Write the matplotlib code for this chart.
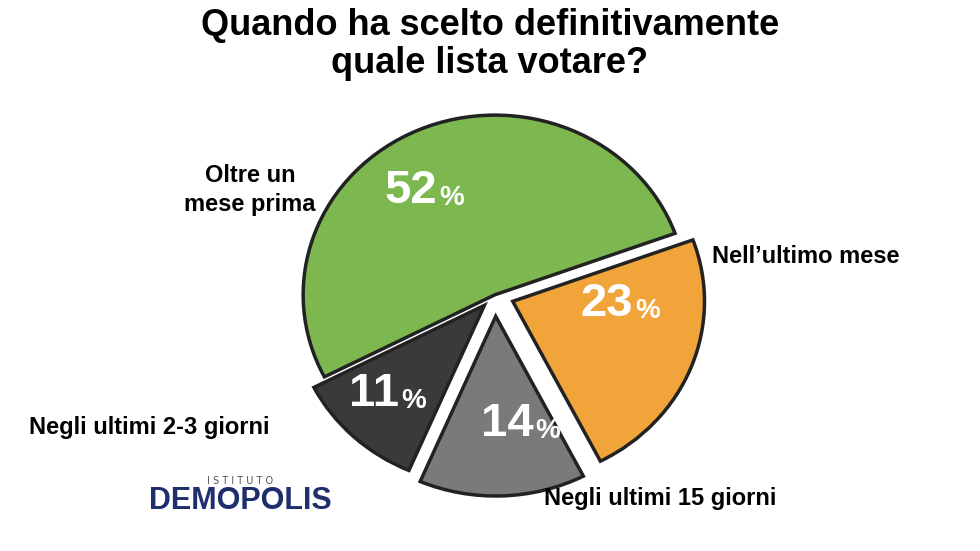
import matplotlib
matplotlib.use("Agg")
import matplotlib.pyplot as plt

categories = ["Oltre un\nmese prima", "Negli ultimi 2-3 giorni", "Negli ultimi 15 giorni", "Nell’ultimo mese"]
values = [52, 11, 14, 23]
colors = ["#7cb84f", "#3a3a3a", "#7a7a7a", "#f0a43a"]
explode = [0.0, 0.08, 0.12, 0.1]

fig = plt.figure(figsize=(9.8, 5.51), dpi=100)
fig.patch.set_facecolor("white")
ax = fig.add_axes([0.28, 0.09, 0.45, 0.75])
wedges, _ = ax.pie(values, colors=colors, startangle=20, counterclock=True,
                   explode=explode, radius=1.0,
                   wedgeprops=dict(edgecolor="#222222", linewidth=2.5))
ax.set_xlim(-1.15, 1.15)
ax.set_ylim(-1.15, 1.15)
ax.set_aspect("auto")

pct_pos = [(-0.3, 0.58), (-0.5, -0.55), (0.2, -0.72), (0.72, -0.05)]
for v, (x, y) in zip(values, pct_pos):
    ax.text(x, y, f"{v}", fontsize=34, fontweight="bold", color="white",
            ha="right", va="center", family="Liberation Sans")
    ax.text(x + 0.01, y - 0.04, "%", fontsize=20, fontweight="bold", color="white",
            ha="left", va="center", family="Liberation Sans")

fs = 17
fig.text(0.255, 0.655, categories[0], fontsize=fs, fontweight="bold", ha="center", va="center", family="Liberation Sans", linespacing=1.3)
fig.text(0.727, 0.535, categories[3], fontsize=fs, fontweight="bold", ha="left", va="center", family="Liberation Sans")
fig.text(0.03, 0.225, categories[1], fontsize=fs, fontweight="bold", ha="left", va="center", family="Liberation Sans")
fig.text(0.555, 0.095, categories[2], fontsize=fs, fontweight="bold", ha="left", va="center", family="Liberation Sans")

fig.text(0.5, 0.985, "Quando ha scelto definitivamente\nquale lista votare?", fontsize=26,
         fontweight="bold", ha="center", va="top", family="Liberation Sans", linespacing=1.1)

fig.text(0.245, 0.127, "I S T I T U T O", fontsize=7, color="#555555", ha="center", va="center")
fig.text(0.245, 0.09, "DEMOPOLIS", fontsize=22, fontweight="bold", color="#1f2f6e",
         ha="center", va="center", family="Liberation Sans")

fig.savefig("out.png", dpi=100, facecolor="white")
